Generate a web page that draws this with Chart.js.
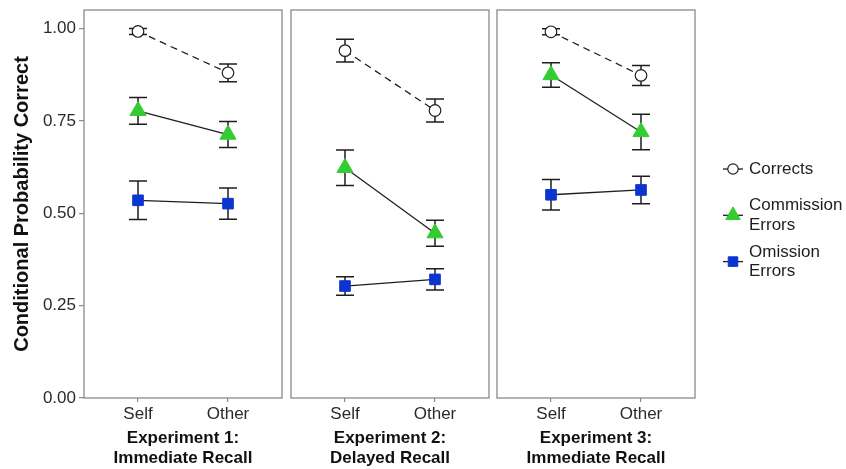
<!DOCTYPE html>
<html><head><meta charset="utf-8">
<script src="https://cdn.jsdelivr.net/npm/chart.js@4"></script>
<style>
html,body{margin:0;padding:0;background:#fff;}
#wrap{position:relative;width:846px;height:469px;overflow:hidden;background:#fff;}
canvas{position:absolute;top:0;}
</style></head><body>
<div id="wrap">
<canvas id="c1" width="283" height="469" style="left:0px"></canvas>
<canvas id="c2" width="206" height="469" style="left:287px"></canvas>
<canvas id="c3" width="353" height="469" style="left:493px"></canvas>
</div>
<script>
// ---- data ----
const categories = ['Self', 'Other'];
const experiments = [['Experiment 1:', 'Immediate Recall'], ['Experiment 2:', 'Delayed Recall'], ['Experiment 3:', 'Immediate Recall']];
const seriesNames = ['Corrects', 'Commission\nErrors', 'Omission\nErrors'];
const yTicks = [0, 0.25, 0.5, 0.75, 1.0];
// per experiment: [Self, Other]
const corrects      = [[0.992, 0.880], [0.940, 0.778], [0.991, 0.873]];
const correctsErr   = [[0.008, 0.024], [0.031, 0.031], [0.008, 0.027]];
const commission    = [[0.777, 0.713], [0.623, 0.446], [0.874, 0.720]];
const commissionErr = [[0.036, 0.035], [0.048, 0.035], [0.033, 0.048]];
const omission      = [[0.535, 0.526], [0.303, 0.321], [0.550, 0.563]];
const omissionErr   = [[0.052, 0.042], [0.025, 0.029], [0.041, 0.037]];

const GREEN = '#33cc33';
const BLUE = '#0b35d0';
const INK = '#1e1e1e';

Chart.defaults.font.family = "'Liberation Sans', Arial, Helvetica, sans-serif";

const toPts = vals => vals.map((v, i) => ({x: i + 1, y: v}));

const errorBars = {
  id: 'errorBars',
  beforeDatasetsDraw(chart) {
    const {ctx, scales: {x, y}} = chart;
    ctx.save();
    ctx.strokeStyle = INK;
    ctx.lineWidth = 1.5;
    chart.data.datasets.forEach(ds => {
      ds.data.forEach((p, i) => {
        const e = ds.errors[i];
        const px = x.getPixelForValue(p.x);
        const xl = x.getPixelForValue(p.x - 0.1), xr = x.getPixelForValue(p.x + 0.1);
        const yt = y.getPixelForValue(p.y + e), yb = y.getPixelForValue(p.y - e);
        ctx.beginPath();
        ctx.moveTo(px, yt); ctx.lineTo(px, yb);
        ctx.moveTo(xl, yt); ctx.lineTo(xr, yt);
        ctx.moveTo(xl, yb); ctx.lineTo(xr, yb);
        ctx.stroke();
      });
    });
    ctx.restore();
  }
};

const panelBorder = {
  id: 'panelBorder',
  afterDraw(chart) {
    const {ctx, chartArea: a} = chart;
    ctx.save();
    ctx.strokeStyle = '#8a8a8a';
    ctx.lineWidth = 1.3;
    ctx.strokeRect(a.left, a.top, a.right - a.left, a.bottom - a.top);
    ctx.restore();
  }
};

const sideLegend = {
  id: 'sideLegend',
  afterDraw(chart, args, opts) {
    if (!opts.show) return;
    const {ctx, chartArea: a} = chart;
    const keyX = a.right + 38;
    const textX = a.right + 54;
    const lineH = 19.5;
    ctx.save();
    chart.data.datasets.forEach((ds, k) => {
      const cy = 169 + k * 46.3;
      ctx.strokeStyle = INK;
      ctx.lineWidth = 1.3;
      ctx.setLineDash([]);
      ctx.beginPath();
      ctx.moveTo(keyX - 10, cy); ctx.lineTo(keyX + 10, cy);
      ctx.stroke();
      ctx.fillStyle = ds.pointBackgroundColor;
      ctx.strokeStyle = ds.pointBorderColor;
      ctx.lineWidth = ds.pointBorderWidth;
      Chart.helpers.drawPoint(ctx, {pointStyle: ds.pointStyle, radius: ds.pointRadius * 0.9, borderWidth: ds.pointBorderWidth, rotation: 0}, keyX, cy);
      const lines = ds.label.split('\n');
      ctx.fillStyle = INK;
      ctx.font = "17px 'Liberation Sans', Arial, sans-serif";
      ctx.textBaseline = 'middle';
      ctx.textAlign = 'left';
      lines.forEach((t, j) => {
        ctx.fillText(t, textX, cy + (j - (lines.length - 1) / 2) * lineH);
      });
    });
    ctx.restore();
  }
};

function makeChart(id, k, showY, padding, showLegend) {
  return new Chart(document.getElementById(id), {
    type: 'line',
    data: {
      datasets: [
        {label: seriesNames[0], data: toPts(corrects[k]), errors: correctsErr[k],
          borderColor: INK, borderWidth: 1.3, borderDash: [7, 5],
          pointStyle: 'circle', pointRadius: 5.8, pointBackgroundColor: '#ffffff', pointBorderColor: INK, pointBorderWidth: 1.2},
        {label: seriesNames[1], data: toPts(commission[k]), errors: commissionErr[k],
          borderColor: INK, borderWidth: 1.3,
          pointStyle: 'triangle', pointRadius: 9.3, pointBackgroundColor: GREEN, pointBorderColor: GREEN, pointBorderWidth: 1},
        {label: seriesNames[2], data: toPts(omission[k]), errors: omissionErr[k],
          borderColor: INK, borderWidth: 1.3,
          pointStyle: 'rect', pointRadius: 7.5, pointBackgroundColor: BLUE, pointBorderColor: BLUE, pointBorderWidth: 1}
      ]
    },
    options: {
      responsive: false,
      animation: false,
      events: [],
      layout: {padding: padding, autoPadding: false},
      plugins: {legend: {display: false}, tooltip: {enabled: false}, sideLegend: {show: showLegend}},
      scales: {
        x: {
          type: 'linear', min: 0.4, max: 2.6,
          afterBuildTicks: s => { s.ticks = categories.map((c, i) => ({value: i + 1})); },
          ticks: {callback: v => categories[Math.round(v) - 1], font: {size: 17}, color: '#2a2a2a', padding: 2, maxRotation: 0, autoSkip: false},
          grid: {drawOnChartArea: false, drawTicks: true, tickLength: 4, color: '#8a8a8a', lineWidth: 1.2},
          border: {display: false},
          title: {display: true, text: experiments[k], font: {size: 17, weight: 'bold', lineHeight: 1.15}, color: '#111', padding: {top: 0, bottom: 1}},
          afterFit: s => { s.height = 71; s.paddingLeft = 0; s.paddingRight = 0; }
        },
        y: {
          display: showY,
          min: 0, max: 1.05,
          afterBuildTicks: s => { s.ticks = yTicks.map(v => ({value: v})); },
          ticks: {callback: v => Number(v).toFixed(2), font: {size: 17}, color: '#2a2a2a', padding: 3},
          grid: {drawOnChartArea: false, drawTicks: true, tickLength: 5, color: '#8a8a8a', lineWidth: 1.2},
          border: {display: false},
          title: {display: true, text: 'Conditional Probability Correct', font: {size: 20, weight: 'bold', lineHeight: 1.2}, color: '#111', padding: {top: 10, bottom: 0}},
          afterFit: s => { s.width = showY ? 84 : 0; s.paddingTop = 0; s.paddingBottom = 0; }
        }
      }
    },
    plugins: [errorBars, panelBorder, sideLegend]
  });
}

makeChart('c1', 0, true, {left: 0, right: 1, top: 10, bottom: 0}, false);
makeChart('c2', 1, false, {left: 4, right: 4, top: 10, bottom: 0}, false);
makeChart('c3', 2, false, {left: 4, right: 151, top: 10, bottom: 0}, true);
</script>
</body></html>
